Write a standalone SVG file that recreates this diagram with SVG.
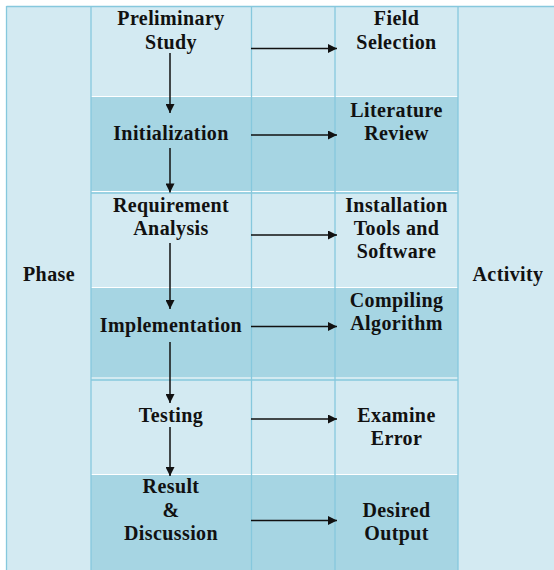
<svg xmlns="http://www.w3.org/2000/svg" width="554" height="570" viewBox="0 0 554 570">
  <defs>
    <style>
      .lt { fill: #d3eaf2; }
      .dk { fill: #a6d5e3; }
      .grid { stroke: #86c8dd; stroke-width: 1.3; fill: none; }
      .sep { stroke: #ffffff; stroke-width: 1.2; }
      .t { font-family: "Liberation Serif", "Times New Roman", serif; font-weight: bold; font-size: 20px; letter-spacing: 0.4px; fill: #111; text-anchor: middle; }
      .arr { stroke: #111; stroke-width: 1.5; fill: none; }
    </style>
    <marker id="head" viewBox="0 0 10 10" refX="10" refY="5" markerWidth="10" markerHeight="9" markerUnits="userSpaceOnUse" orient="auto">
      <path d="M0,0 L10,5 L0,10 Z" fill="#111"/>
    </marker>
  </defs>

  <rect x="0" y="0" width="554" height="570" fill="#ffffff"/>

  <!-- side columns -->
  <rect class="lt" x="6" y="6" width="85" height="564"/>
  <rect class="lt" x="458" y="6" width="96" height="564"/>

  <!-- alternating bands across the phase / arrow / activity columns -->
  <rect class="lt" x="91" y="6" width="367" height="91"/>
  <rect class="dk" x="91" y="97" width="367" height="95"/>
  <rect class="lt" x="91" y="192" width="367" height="96"/>
  <rect class="dk" x="91" y="288" width="367" height="91"/>
  <rect class="lt" x="91" y="379" width="367" height="96"/>
  <rect class="dk" x="91" y="475" width="367" height="95"/>

  <!-- band separators -->
  <g>
    <line class="sep" x1="91" y1="96.5" x2="458" y2="96.5"/>
    <line class="sep" x1="91" y1="191.5" x2="458" y2="191.5"/>
    <line class="sep" x1="91" y1="287.5" x2="458" y2="287.5"/>
    <line class="sep" x1="91" y1="378" x2="458" y2="378"/>
    <line class="sep" x1="91" y1="474.5" x2="458" y2="474.5"/>
    <line class="grid" x1="91" y1="193" x2="458" y2="193"/>
    <line class="grid" x1="91" y1="380" x2="458" y2="380"/>
  </g>

  <!-- grid lines -->
  <g class="grid">
    <line x1="6.5" y1="6.5" x2="554" y2="6.5"/>
    <line x1="6.5" y1="6" x2="6.5" y2="570"/>
    <line x1="91" y1="6" x2="91" y2="570"/>
    <line x1="251.5" y1="6" x2="251.5" y2="570"/>
    <line x1="335" y1="6" x2="335" y2="570"/>
    <line x1="458" y1="6" x2="458" y2="570"/>
  </g>

  <!-- column headers -->
  <g id="phase-header"><text class="t" x="49" y="281">Phase</text></g>
  <g id="activity-header"><text class="t" x="508" y="281">Activity</text></g>

  <!-- phases -->
  <g id="preliminary-study">
    <text class="t" x="171" y="25">Preliminary</text>
    <text class="t" x="171" y="48.5">Study</text>
  </g>
  <g id="initialization"><text class="t" x="171" y="140">Initialization</text></g>
  <g id="requirement-analysis">
    <text class="t" x="171" y="211.5">Requirement</text>
    <text class="t" x="171" y="235">Analysis</text>
  </g>
  <g id="implementation"><text class="t" x="171" y="331.5">Implementation</text></g>
  <g id="testing"><text class="t" x="171" y="422">Testing</text></g>
  <g id="result-discussion">
    <text class="t" x="171" y="493">Result</text>
    <text class="t" x="171" y="516.5">&amp;</text>
    <text class="t" x="171" y="540">Discussion</text>
  </g>

  <!-- activities -->
  <g id="field-selection">
    <text class="t" x="396.5" y="25">Field</text>
    <text class="t" x="396.5" y="49">Selection</text>
  </g>
  <g id="literature-review">
    <text class="t" x="396.5" y="116.5">Literature</text>
    <text class="t" x="396.5" y="140">Review</text>
  </g>
  <g id="installation-tools">
    <text class="t" x="396.5" y="211.5">Installation</text>
    <text class="t" x="396.5" y="235">Tools and</text>
    <text class="t" x="396.5" y="258">Software</text>
  </g>
  <g id="compiling-algorithm">
    <text class="t" x="396.5" y="306.5">Compiling</text>
    <text class="t" x="396.5" y="330">Algorithm</text>
  </g>
  <g id="examine-error">
    <text class="t" x="396.5" y="422">Examine</text>
    <text class="t" x="396.5" y="445">Error</text>
  </g>
  <g id="desired-output">
    <text class="t" x="396.5" y="516.5">Desired</text>
    <text class="t" x="396.5" y="540">Output</text>
  </g>

  <!-- connectors -->
  <g id="connectors" class="arr">
    <line x1="170" y1="53" x2="170" y2="113" marker-end="url(#head)"/>
    <line x1="170" y1="148" x2="170" y2="192.5" marker-end="url(#head)"/>
    <line x1="170" y1="243" x2="170" y2="309" marker-end="url(#head)"/>
    <line x1="170" y1="342" x2="170" y2="403" marker-end="url(#head)"/>
    <line x1="170" y1="427" x2="170" y2="476" marker-end="url(#head)"/>

    <line x1="251" y1="48.5" x2="337" y2="48.5" marker-end="url(#head)"/>
    <line x1="251" y1="135" x2="337" y2="135" marker-end="url(#head)"/>
    <line x1="251" y1="235" x2="337" y2="235" marker-end="url(#head)"/>
    <line x1="251" y1="326.5" x2="337" y2="326.5" marker-end="url(#head)"/>
    <line x1="251" y1="419" x2="337" y2="419" marker-end="url(#head)"/>
    <line x1="251" y1="520.5" x2="337" y2="520.5" marker-end="url(#head)"/>
  </g>
</svg>
